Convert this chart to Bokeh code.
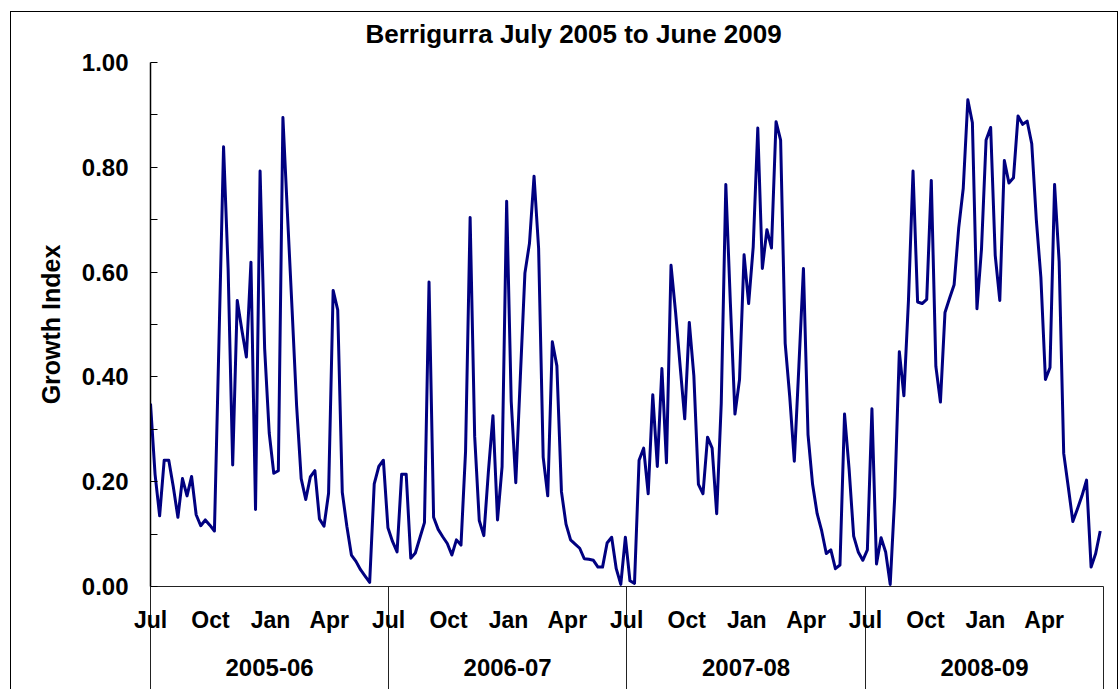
import pandas as pd
from bokeh.plotting import figure
from bokeh.models import Range1d, FixedTicker, LinearAxis, NumeralTickFormatter
from bokeh.embed import file_html
from bokeh.resources import INLINE

# ---------------- data (weekly Growth Index, from 1 July 2005) ----------------
title_text = "Berrigurra July 2005 to June 2009"
series_start = "2005-07-01"
series_end = "2009-07-01"
season_labels = ["2005-06", "2006-07", "2007-08", "2008-09"]

gi_2005_06 = [0.349, 0.214, 0.135, 0.241, 0.241, 0.19, 0.132, 0.206, 0.173, 0.210,
              0.137, 0.116, 0.127, 0.117, 0.106, 0.47, 0.839, 0.606, 0.232, 0.546,
              0.49, 0.438, 0.619, 0.147, 0.793, 0.454, 0.293, 0.216, 0.221, 0.895,
              0.71, 0.53, 0.345, 0.206, 0.166, 0.209, 0.221, 0.129, 0.115, 0.178,
              0.565, 0.528, 0.180, 0.115, 0.06, 0.048, 0.032, 0.02, 0.008, 0.196,
              0.229, 0.241]
gi_2006_07 = [0.112, 0.086, 0.066, 0.214, 0.214, 0.054, 0.064, 0.093, 0.122, 0.581,
              0.132, 0.109, 0.095, 0.082, 0.060, 0.089, 0.079, 0.258, 0.704, 0.286,
              0.126, 0.097, 0.219, 0.326, 0.127, 0.229, 0.735, 0.353, 0.198, 0.40,
              0.598, 0.655, 0.783, 0.645, 0.247, 0.173, 0.467, 0.421, 0.181, 0.119,
              0.089, 0.081, 0.073, 0.053, 0.052, 0.050, 0.037, 0.037, 0.083, 0.094,
              0.034, 0.004]
gi_2007_08 = [0.094, 0.011, 0.006, 0.241, 0.264, 0.177, 0.366, 0.229, 0.416, 0.236,
              0.613, 0.523, 0.42, 0.32, 0.504, 0.402, 0.195, 0.177, 0.285, 0.264,
              0.139, 0.35, 0.767, 0.54, 0.329, 0.395, 0.633, 0.54, 0.648, 0.875,
              0.607, 0.681, 0.646, 0.887, 0.852, 0.464, 0.362, 0.239, 0.42, 0.607,
              0.29, 0.195, 0.139, 0.106, 0.063, 0.070, 0.034, 0.041, 0.329, 0.224,
              0.096, 0.066]
gi_2008_09 = [0.05, 0.07, 0.339, 0.043, 0.093, 0.066, 0.004, 0.172, 0.448, 0.364,
              0.546, 0.793, 0.543, 0.54, 0.548, 0.775, 0.42, 0.352, 0.523, 0.55,
              0.576, 0.684, 0.76, 0.929, 0.885, 0.53, 0.645, 0.852, 0.876, 0.632,
              0.546, 0.813, 0.77, 0.78, 0.898, 0.882, 0.888, 0.845, 0.70, 0.59,
              0.395, 0.418, 0.767, 0.62, 0.254, 0.19, 0.124, 0.148, 0.173, 0.203,
              0.037, 0.063, 0.106]

y_ticks = [0.0, 0.2, 0.4, 0.6, 0.8, 1.0]
y_minor_ticks = [0.1, 0.3, 0.5, 0.7, 0.9]

# ---------------- derived positions (days since series start) ----------------
values = gi_2005_06 + gi_2006_07 + gi_2007_08 + gi_2008_09
t0 = pd.Timestamp(series_start)
dates = pd.date_range(t0, periods=len(values), freq="7D")
days = [float((d - t0).days) for d in dates]

month_starts = pd.date_range(t0, pd.Timestamp(series_end) - pd.Timedelta(days=1), freq="3MS")
month_days = [float((d - t0).days) for d in month_starts]
month_names = {md: d.strftime("%b") for md, d in zip(month_days, month_starts)}

year_starts = pd.date_range(t0, series_end, freq="12MS")
year_days = [float((d - t0).days) for d in year_starts]
season_mid = [(a + b) / 2 for a, b in zip(year_days[:-1], year_days[1:])]
season_names = {m: s for m, s in zip(season_mid, season_labels)}

FONT = "Liberation Sans"
SEP = 103  # length of the season separators below the axis (px)

p = figure(width=1120, height=689,
           x_range=Range1d(0, year_days[-1]), y_range=Range1d(y_ticks[0], y_ticks[-1]),
           x_axis_type=None, output_backend="svg", toolbar_location=None,
           min_border_left=150, min_border_right=17, min_border_top=62, min_border_bottom=103)
# chart-area frame (left, top and right edges), painted behind a transparent border fill
p.styles = {"background": (
    "linear-gradient(#000,#000) 10px 11px / 1px 678px no-repeat, "
    "linear-gradient(#000,#000) 10px 11px / 1108px 1px no-repeat, "
    "linear-gradient(#000,#000) 1117px 11px / 1px 678px no-repeat, #fff")}
p.outline_line_color = None
p.background_fill_color = "white"
p.border_fill_alpha = 0
p.xgrid.visible = False
p.ygrid.visible = False

p.title.text = title_text
p.title.text_font = FONT
p.title.text_font_size = "26px"
p.title.text_font_style = "bold"
p.title.text_color = "black"
p.title.align = "left"
p.title.offset = 215
p.title.standoff = 28

p.line(days, values, line_color="#000080", line_width=3, line_join="round")

# y axis
ya = p.yaxis[0]
ya.ticker = FixedTicker(ticks=y_ticks, minor_ticks=y_minor_ticks)
ya.formatter = NumeralTickFormatter(format="0.00")
ya.major_tick_in = 7
ya.major_tick_out = 0
ya.minor_tick_in = 7
ya.minor_tick_out = 0
ya.major_tick_line_color = "black"
ya.minor_tick_line_color = "black"
ya.axis_line_color = "black"
ya.axis_line_width = 1.5
ya.major_label_text_font = FONT
ya.major_label_text_font_size = "24px"
ya.major_label_text_font_style = "bold"
ya.major_label_text_color = "black"
ya.major_label_standoff = 22
ya.axis_label = "Growth Index"
ya.axis_label_text_font = FONT
ya.axis_label_text_font_size = "25px"
ya.axis_label_text_font_style = "bold"
ya.axis_label_text_color = "black"
ya.axis_label_standoff = 14

# x axis: month labels + long separators at season boundaries
xa = LinearAxis(ticker=FixedTicker(ticks=month_days, minor_ticks=year_days))
xa.major_label_overrides = month_names
xa.major_tick_line_color = None
xa.major_tick_out = 0
xa.major_tick_in = 0
xa.minor_tick_in = 0
xa.minor_tick_out = SEP
xa.minor_tick_line_color = "#222222"
xa.axis_line_color = "#222222"
xa.major_label_text_font = FONT
xa.major_label_text_font_size = "23px"
xa.major_label_text_font_style = "bold"
xa.major_label_text_color = "black"
xa.major_label_standoff = 20 - SEP
p.add_layout(xa, "below")

# second row: season labels
xb = LinearAxis(ticker=FixedTicker(ticks=season_mid, minor_ticks=[]))
xb.major_label_overrides = season_names
xb.axis_line_color = None
xb.major_tick_line_color = None
xb.minor_tick_line_color = None
xb.major_tick_out = 0
xb.major_tick_in = 0
xb.major_label_text_font = FONT
xb.major_label_text_font_size = "24px"
xb.major_label_text_font_style = "bold"
xb.major_label_text_color = "black"
xb.major_label_standoff = 23
p.add_layout(xb, "below")

open("out.html", "w").write(file_html(p, INLINE))
